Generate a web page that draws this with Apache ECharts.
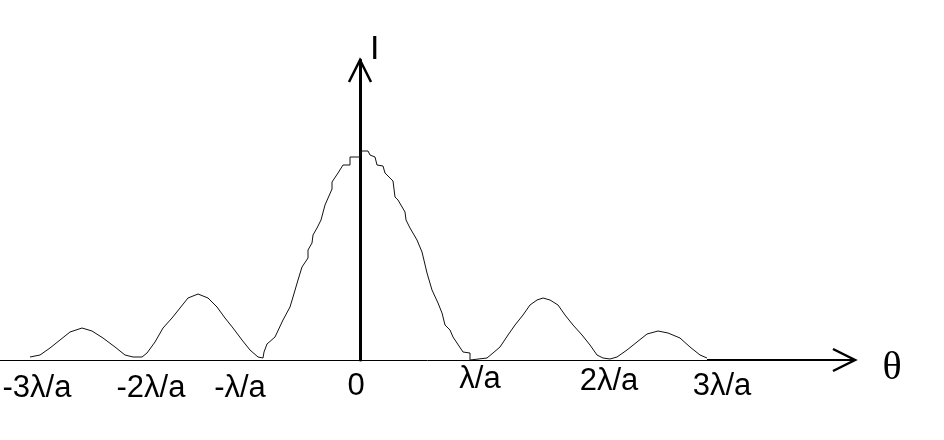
<!DOCTYPE html>
<html>
<head>
<meta charset="utf-8">
<script src="https://cdn.jsdelivr.net/npm/echarts@6/dist/echarts.min.js"></script>
<style>
html,body{margin:0;padding:0;background:#fff;}
#c{width:944px;height:440px;}
</style>
</head>
<body>
<div id="c"></div>
<script>
// angle theta (arbitrary units, lambda/a ~ 118) and intensity (arbitrary units)
const theta = [
  -330,-320,-310,-300,-290,-278,-268,-257,-245,-235,-227,-218,-213,
  -205,-197,-188,-180,-172,-162,-152,-143,-135,-127,-118,-110,-102,-97,
  -96,-95,-93,-85,-77,-70,-67,-62,-58,-52,-52,-48,-47,-43,-39,-35,-28,-28,-22,-17,-10,-10,0,1,8,
  10,15,17,23,25,33,35,38,45,46,50,57,62,67,72,78,82,85,90,93,97,103,110,110,
  127,133,140,148,155,163,170,177,183,190,198,205,213,222,230,237,243,
  250,257,267,277,287,298,308,320,330,340,347
];
const intensity = [
  3,5,12,20,28,32,29,22,13,5,3,3,7,
  18,32,42,52,62,66,62,53,42,32,20,10,3,2,
  8,8,16,23,40,53,63,80,93,102,110,117,125,132,140,155,171,178,187,195,195,203,203,209,209,
  205,203,195,194,187,179,163,160,148,140,132,120,108,87,70,57,47,35,30,23,17,8,7,0,
  2,7,13,25,35,45,55,60,62,60,55,45,35,25,15,5,2,
  1,3,10,18,26,29,27,22,13,5,2
];
const tickValues = [-323, -209, -120, -4, 120, 249, 362];
const tickLabels = ['-3λ/a', '-2λ/a', '-λ/a', '0', 'λ/a', '2λ/a', '3λ/a'];
const xAxisName = 'θ';
const yAxisName = 'I';

const X_MIN = -360, X_MAX = 495, Y_MAX = 300;
const labelDy = [28, 28, 28, 26, 19, 21, 26];

const chart = echarts.init(document.getElementById('c'), null, {renderer: 'canvas'});
const data = theta.map((t, i) => [t, intensity[i]]);

chart.setOption({
  animation: false,
  backgroundColor: '#fff',
  grid: {left: 0, right: 89, top: 60, bottom: 80},
  xAxis: {
    type: 'value', min: X_MIN, max: X_MAX,
    axisLine: {show: true, onZero: true, lineStyle: {color: '#000', width: 1}},
    axisTick: {show: false}, axisLabel: {show: false}, splitLine: {show: false}
  },
  yAxis: {
    type: 'value', min: 0, max: Y_MAX,
    axisLine: {show: true, onZero: true, lineStyle: {color: '#000', width: 3}},
    axisTick: {show: false}, axisLabel: {show: false}, splitLine: {show: false}
  },
  series: [{
    type: 'line', data: data, symbol: 'none', smooth: false,
    lineStyle: {color: '#111', width: 1}, z: 1
  }]
});

function px(p) { return chart.convertToPixel({gridIndex: 0}, p); }
const o = px([0, 0]);
const xEnd = px([X_MAX, 0]);
const yTop = px([0, Y_MAX]);
const thickStart = px([theta[theta.length - 1], 0]);

const g = [];
// thicker part of the theta axis
g.push({type: 'line', shape: {x1: thickStart[0], y1: o[1], x2: xEnd[0], y2: o[1]},
  style: {stroke: '#000', lineWidth: 2}, z: 10});
// x arrow head
g.push({type: 'polyline', shape: {points: [[xEnd[0] - 22, o[1] - 11], [xEnd[0], o[1]], [xEnd[0] - 22, o[1] + 11]]},
  style: {stroke: '#000', lineWidth: 2.5, fill: null}, z: 10});
// y arrow head
g.push({type: 'polyline', shape: {points: [[yTop[0] - 11, yTop[1] + 22], [yTop[0], yTop[1]], [yTop[0] + 11, yTop[1] + 22]]},
  style: {stroke: '#000', lineWidth: 2.5, fill: null}, z: 10});
// axis names
g.push({type: 'text', x: yTop[0] + 10, y: yTop[1] - 27,
  style: {text: yAxisName, font: '34px "Liberation Sans", Arial, sans-serif', fill: '#000', textVerticalAlign: 'top'}, z: 10});
g.push({type: 'text', x: xEnd[0] + 37, y: o[1] + 8,
  style: {text: xAxisName, font: '40px "Liberation Serif", "Times New Roman", serif', fill: '#000', textAlign: 'center', textVerticalAlign: 'middle'}, z: 10});
// tick labels
tickValues.forEach((v, i) => {
  const p = px([v, 0]);
  g.push({type: 'text', x: p[0], y: p[1] + labelDy[i],
    style: {text: tickLabels[i], font: '31px "Liberation Sans", Arial, sans-serif', fill: '#000', textAlign: 'center', textVerticalAlign: 'middle'}, z: 10});
});
chart.setOption({graphic: {elements: g}});
</script>
</body>
</html>
